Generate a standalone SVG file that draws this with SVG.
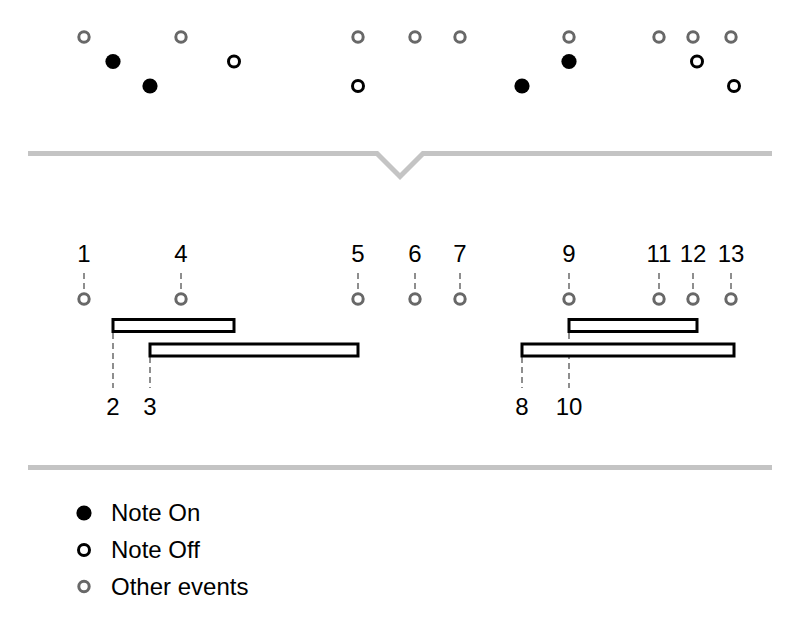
<svg xmlns="http://www.w3.org/2000/svg" width="800" height="626" viewBox="0 0 800 626">
<style>
.oth{fill:none;stroke:#686868;stroke-width:3}
.on{fill:#000}
.off{fill:#fff;stroke:#000;stroke-width:3}
.sep{fill:none;stroke:#c4c4c4;stroke-width:5}
.tick{stroke:#6a6a6a;stroke-width:1.5;stroke-dasharray:6 4}
.bar{fill:#fff;stroke:#000;stroke-width:3}
text{font-family:"Liberation Sans",Arial,sans-serif;font-size:24px;fill:#000}
.c{text-anchor:middle}
</style>
<rect width="800" height="626" fill="#fff"/>
<g id="stream">
<circle class="oth" cx="84" cy="37" r="5.2"/>
<circle class="oth" cx="181" cy="37" r="5.2"/>
<circle class="oth" cx="358" cy="37" r="5.2"/>
<circle class="oth" cx="415" cy="37" r="5.2"/>
<circle class="oth" cx="460" cy="37" r="5.2"/>
<circle class="oth" cx="569" cy="37" r="5.2"/>
<circle class="oth" cx="659" cy="37" r="5.2"/>
<circle class="oth" cx="693" cy="37" r="5.2"/>
<circle class="oth" cx="731" cy="37" r="5.2"/>
<circle class="on" cx="113" cy="61.5" r="7.6"/>
<circle class="off" cx="234" cy="61.5" r="5.5"/>
<circle class="on" cx="569" cy="61.5" r="7.6"/>
<circle class="off" cx="697" cy="61.5" r="5.5"/>
<circle class="on" cx="150" cy="86" r="7.6"/>
<circle class="off" cx="358" cy="86" r="5.5"/>
<circle class="on" cx="522" cy="86" r="7.6"/>
<circle class="off" cx="734" cy="86" r="5.5"/>
</g>
<g id="separators">
<polyline class="sep" points="28,153.5 377,153.5 400,176.5 423,153.5 772,153.5"/>
<line class="sep" x1="28" y1="467.5" x2="772" y2="467.5"/>
</g>
<g id="connectors">
<line class="tick" x1="84" y1="273" x2="84" y2="292"/>
<line class="tick" x1="181" y1="273" x2="181" y2="292"/>
<line class="tick" x1="358" y1="273" x2="358" y2="292"/>
<line class="tick" x1="415" y1="273" x2="415" y2="292"/>
<line class="tick" x1="460" y1="273" x2="460" y2="292"/>
<line class="tick" x1="569" y1="273" x2="569" y2="292"/>
<line class="tick" x1="659" y1="273" x2="659" y2="292"/>
<line class="tick" x1="693" y1="273" x2="693" y2="292"/>
<line class="tick" x1="731" y1="273" x2="731" y2="292"/>
<line class="tick" x1="113" y1="333" x2="113" y2="388"/>
<line class="tick" x1="150" y1="357" x2="150" y2="388"/>
<line class="tick" x1="522" y1="357" x2="522" y2="388"/>
<line class="tick" x1="569" y1="333" x2="569" y2="388"/>
</g>
<g id="events">
<g id="e1"><circle class="oth" cx="84" cy="299" r="5.2"/><text class="c" x="84" y="262">1</text></g>
<g id="e4"><circle class="oth" cx="181" cy="299" r="5.2"/><text class="c" x="181" y="262">4</text></g>
<g id="e5"><circle class="oth" cx="358" cy="299" r="5.2"/><text class="c" x="358" y="262">5</text></g>
<g id="e6"><circle class="oth" cx="415" cy="299" r="5.2"/><text class="c" x="415" y="262">6</text></g>
<g id="e7"><circle class="oth" cx="460" cy="299" r="5.2"/><text class="c" x="460" y="262">7</text></g>
<g id="e9"><circle class="oth" cx="569" cy="299" r="5.2"/><text class="c" x="569" y="262">9</text></g>
<g id="e11"><circle class="oth" cx="659" cy="299" r="5.2"/><text class="c" x="659" y="262">11</text></g>
<g id="e12"><circle class="oth" cx="693" cy="299" r="5.2"/><text class="c" x="693" y="262">12</text></g>
<g id="e13"><circle class="oth" cx="731" cy="299" r="5.2"/><text class="c" x="731" y="262">13</text></g>
</g>
<g id="notes">
<g id="n2"><rect class="bar" x="113" y="319.5" width="121" height="12"/><text class="c" x="113" y="415">2</text></g>
<g id="n3"><rect class="bar" x="150" y="344" width="208" height="12"/><text class="c" x="150" y="415">3</text></g>
<g id="n10"><rect class="bar" x="569" y="319.5" width="128" height="12"/><text class="c" x="569" y="415">10</text></g>
<g id="n8"><rect class="bar" x="522" y="344" width="212" height="12"/><text class="c" x="522" y="415">8</text></g>
</g>
<g id="legend">
<g id="lg-on"><circle class="on" cx="84" cy="513" r="7.6"/><text x="111" y="521">Note On</text></g>
<g id="lg-off"><circle class="off" cx="84" cy="550" r="5.5"/><text x="111" y="558">Note Off</text></g>
<g id="lg-other"><circle class="oth" cx="84" cy="586.5" r="5.2"/><text x="111" y="595">Other events</text></g>
</g>
</svg>
